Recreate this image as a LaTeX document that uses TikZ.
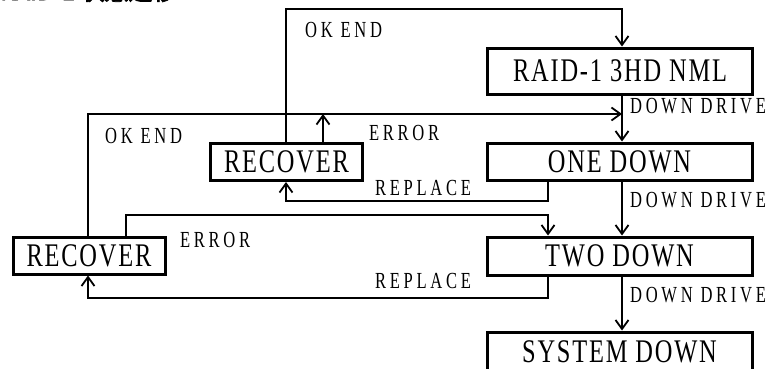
\documentclass[tikz,border=0pt]{standalone}
\usepackage{fontspec}
\setmainfont{Liberation Serif}
\newfontfamily\boxfont{Liberation Serif}[FakeStretch=0.74, LetterSpace=5.5]
\newfontfamily\lblfont{Liberation Serif}[FakeStretch=0.72, LetterSpace=16]
\newfontfamily\cjkfont{Noto Sans CJK JP}[FakeBold=3]
\usetikzlibrary{arrows.meta}
\begin{document}
\begin{tikzpicture}[x=1pt,y=-1pt,
  state/.style={draw, line width=3pt, minimum width=265pt, inner sep=0pt,
    font=\boxfont\fontsize{33}{33}\selectfont},
  rec/.style={draw, line width=3pt, minimum width=152pt, minimum height=37pt, inner sep=0pt,
    font=\boxfont\fontsize{33}{33}\selectfont},
  conn/.style={line width=1.4pt},
  arr/.style={conn, -{Straight Barb[length=9pt,width=13pt,line width=1.8pt]}},
  lbl/.style={anchor=west, inner sep=0pt, font=\lblfont\fontsize{23}{23}\selectfont}]
\useasboundingbox (0,0) rectangle (773,368);
\begin{scope}
\clip (0,0) rectangle (773,368);
\node[anchor=base west, inner sep=0pt, font=\fontsize{24}{24}\selectfont] (title) at (0,0) {\cjkfont RAID-1 状態遷移};
\node[state, minimum height=46pt] (raid) at (620,71) {RAID-1 3HD NML};
\node[state, minimum height=37pt] (one) at (619.5,161.5) {ONE DOWN};
\node[state, minimum height=38pt] (two) at (619.5,256) {TWO DOWN};
\node[state, minimum height=40pt] (sys) at (619.5,352) {SYSTEM DOWN};
\end{scope}
\node[rec] (rec1) at (286.5,162) {RECOVER};
\node[rec] (rec2) at (89,255.5) {RECOVER};
% coordinates of bends
\coordinate (t1) at (286,9);
\coordinate (t2) at (622,9);
\coordinate (m1) at (88,114);
\coordinate (m2) at (622,114);
\coordinate (r1) at (548,201);
\coordinate (r2) at (286,201);
\coordinate (e1) at (126,215);
\coordinate (e2) at (548,215);
\coordinate (s1) at (548,298);
\coordinate (s2) at (88,298);
% connectors
\draw[arr] (rec1.north -| t1) -- (t1) -- (t2) -- (t2 |- raid.north);
\draw[arr] (raid.south -| t2) -- (one.north -| t2);
\draw[arr] (one.south -| t2) -- (two.north -| t2);
\draw[arr] (two.south -| t2) -- (sys.north -| t2);
\draw[arr] (rec2.north -| m1) -- (m1) -- (m2);
\draw[arr] (rec1.north -| 323,0) -- (323,114);
\draw[arr] (one.south -| r1) -- (r1) -- (r2) -- (rec1.south -| r2);
\draw[arr] (rec2.north -| e1) -- (e1) -- (e2) -- (two.north -| e2);
\draw[arr] (two.south -| s1) -- (s1) -- (s2) -- (rec2.south -| s2);
% labels
\node[lbl] (l1) at (305,30) {OK END};
\node[lbl] (l2) at (630,106) {DOWN DRIVE};
\node[lbl] (l3) at (369,133) {ERROR};
\node[lbl] (l4) at (105,136) {OK END};
\node[lbl] (l5) at (375,188) {REPLACE};
\node[lbl] (l6) at (630,200) {DOWN DRIVE};
\node[lbl] (l7) at (180,240) {ERROR};
\node[lbl] (l8) at (375,281) {REPLACE};
\node[lbl] (l9) at (630,295) {DOWN DRIVE};
\end{tikzpicture}
\end{document}
